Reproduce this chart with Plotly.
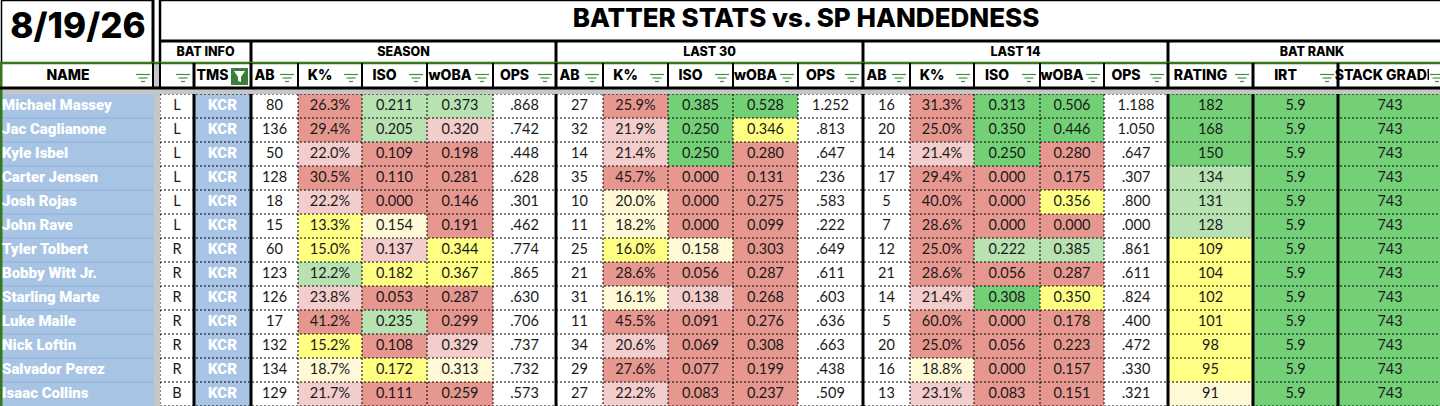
import plotly.graph_objects as go

# ---------------- data ----------------
DATE = "8/19/26"
TITLE = "BATTER STATS vs. SP HANDEDNESS"
GROUPS = ["BAT INFO", "SEASON", "LAST 30", "LAST 14", "BAT RANK"]
HEADERS = ["NAME", "", "TMS", "AB", "K%", "ISO", "wOBA", "OPS",
           "AB", "K%", "ISO", "wOBA", "OPS",
           "AB", "K%", "ISO", "wOBA", "OPS",
           "RATING", "IRT", "STACK GRADE"]

names = ["Michael Massey", "Jac Caglianone", "Kyle Isbel", "Carter Jensen", "Josh Rojas",
         "John Rave", "Tyler Tolbert", "Bobby Witt Jr.", "Starling Marte", "Luke Maile",
         "Nick Loftin", "Salvador Perez", "Isaac Collins"]
hand = ["L", "L", "L", "L", "L", "L", "R", "R", "R", "R", "R", "R", "B"]
team = ["KCR"] * 13

s_ab = [80, 136, 50, 128, 18, 15, 60, 123, 126, 17, 132, 134, 129]
s_k = [26.3, 29.4, 22.0, 30.5, 22.2, 13.3, 15.0, 12.2, 23.8, 41.2, 15.2, 18.7, 21.7]
s_iso = [0.211, 0.205, 0.109, 0.110, 0.000, 0.154, 0.137, 0.182, 0.053, 0.235, 0.108, 0.172, 0.111]
s_woba = [0.373, 0.320, 0.198, 0.281, 0.146, 0.191, 0.344, 0.367, 0.287, 0.299, 0.329, 0.313, 0.259]
s_ops = [0.868, 0.742, 0.448, 0.628, 0.301, 0.462, 0.774, 0.865, 0.630, 0.706, 0.737, 0.732, 0.573]

l30_ab = [27, 32, 14, 35, 10, 11, 25, 21, 31, 11, 34, 29, 27]
l30_k = [25.9, 21.9, 21.4, 45.7, 20.0, 18.2, 16.0, 28.6, 16.1, 45.5, 20.6, 27.6, 22.2]
l30_iso = [0.385, 0.250, 0.250, 0.000, 0.000, 0.000, 0.158, 0.056, 0.138, 0.091, 0.069, 0.077, 0.083]
l30_woba = [0.528, 0.346, 0.280, 0.131, 0.275, 0.099, 0.303, 0.287, 0.268, 0.276, 0.308, 0.199, 0.237]
l30_ops = [1.252, 0.813, 0.647, 0.236, 0.583, 0.222, 0.649, 0.611, 0.603, 0.636, 0.663, 0.438, 0.509]

l14_ab = [16, 20, 14, 17, 5, 7, 12, 21, 14, 5, 20, 16, 13]
l14_k = [31.3, 25.0, 21.4, 29.4, 40.0, 28.6, 25.0, 28.6, 21.4, 60.0, 25.0, 18.8, 23.1]
l14_iso = [0.313, 0.350, 0.250, 0.000, 0.000, 0.000, 0.222, 0.056, 0.308, 0.000, 0.056, 0.000, 0.083]
l14_woba = [0.506, 0.446, 0.280, 0.175, 0.356, 0.000, 0.385, 0.287, 0.350, 0.178, 0.223, 0.157, 0.151]
l14_ops = [1.188, 1.050, 0.647, 0.307, 0.800, 0.000, 0.861, 0.611, 0.824, 0.400, 0.472, 0.330, 0.321]

rating = [182, 168, 150, 134, 131, 128, 109, 104, 102, 101, 98, 95, 91]
irt = [5.9] * 13
stack = [743] * 13

# conditional-format classes
s_k_c = ["R", "R", "P", "R", "P", "Y", "Y", "LG", "P", "R", "Y", "LY", "P"]
s_iso_c = ["LG", "LG", "R", "R", "R", "LY", "P", "Y", "R", "LG", "R", "Y", "R"]
s_woba_c = ["LG", "P", "R", "R", "R", "R", "Y", "Y", "R", "R", "P", "LY", "R"]
l30_k_c = ["R", "P", "P", "R", "LY", "LY", "Y", "R", "LY", "R", "P", "R", "P"]
l30_iso_c = ["G", "G", "G", "R", "R", "R", "LY", "R", "P", "R", "R", "R", "R"]
l30_woba_c = ["G", "Y", "R", "R", "R", "R", "R", "R", "R", "R", "R", "R", "R"]
l14_k_c = ["R", "R", "P", "R", "R", "R", "R", "R", "P", "R", "R", "LY", "P"]
l14_iso_c = ["G", "G", "G", "R", "R", "R", "LG", "R", "G", "R", "R", "R", "R"]
l14_woba_c = ["G", "G", "R", "R", "Y", "R", "LG", "R", "Y", "R", "R", "R", "R"]
rating_c = ["G", "G", "G", "LG", "LG", "LG", "Y", "Y", "Y", "Y", "Y", "Y", "LY"]
irt_c = ["G"] * 13
stack_c = ["G"] * 13

# ---------------- styling / layout ----------------
PALETTE = {"R": "#e6978f", "P": "#f2cdcb", "Y": "#ffff84", "LY": "#fff9d6",
           "LG": "#b8e2b2", "G": "#73d077", "W": "#ffffff"}
BLUE = "#a7c4e5"
BLUE_SEP = "#8eadd2"
GRAY = "#c6c6c6"
DKGREEN = "#38761d"
ICON_GREEN = "#3f8f43"

W, H = 1440, 406
EDGES = [(2, 154), (160, 194), (194, 251), (251, 298), (298, 362), (362, 427), (427, 493),
         (493, 556), (556, 603), (603, 668), (668, 733), (733, 798), (798, 863),
         (863, 910), (910, 974), (974, 1040), (1040, 1104), (1104, 1168),
         (1168, 1253), (1253, 1338), (1338, 1442)]
THICK_X = [194, 251, 556, 863, 1168, 1253, 1338]
GROUP_SPANS = [(160, 251), (251, 556), (556, 863), (863, 1168), (1168, 1456)]
TITLE_BOT, GROUP_BOT, HEAD_BOT, DATA_TOP, ROW_H = 41, 63, 88, 94, 24


def pct(v):
    return f"{v:.1f}%"


def dec3(v):
    return f"{v:.3f}"


def ops(v):
    s = f"{v:.3f}"
    return s[1:] if s.startswith("0") else s


def intf(v):
    return str(v)


def dec1(v):
    return f"{v:.1f}"


COLUMNS = [
    (s_ab, intf, None), (s_k, pct, s_k_c), (s_iso, dec3, s_iso_c), (s_woba, dec3, s_woba_c), (s_ops, ops, None),
    (l30_ab, intf, None), (l30_k, pct, l30_k_c), (l30_iso, dec3, l30_iso_c), (l30_woba, dec3, l30_woba_c), (l30_ops, ops, None),
    (l14_ab, intf, None), (l14_k, pct, l14_k_c), (l14_iso, dec3, l14_iso_c), (l14_woba, dec3, l14_woba_c), (l14_ops, ops, None),
    (rating, intf, rating_c), (irt, dec1, irt_c), (stack, intf, stack_c),
]

shapes = []


def rect(x0, x1, y0, y1, fill, layer="below"):
    shapes.append(dict(type="rect", xref="x", yref="y", x0=x0, x1=x1, y0=y0, y1=y1,
                       fillcolor=fill, line=dict(width=0), layer=layer))


def line(x0, y0, x1, y1, color="#000000", width=1, dash="solid", layer="below"):
    shapes.append(dict(type="line", xref="x", yref="y", x0=x0, y0=y0, x1=x1, y1=y1,
                       line=dict(color=color, width=width, dash=dash), layer=layer))


n = len(names)


def row_top(i):
    return DATA_TOP + i * ROW_H


# cell fills
for i in range(n):
    y0, y1 = row_top(i), row_top(i) + ROW_H
    rect(EDGES[0][0], EDGES[0][1], y0, y1, BLUE)
    rect(EDGES[1][0], EDGES[1][1], y0, y1, "#ffffff")
    rect(EDGES[2][0], EDGES[2][1], y0, y1, BLUE)
    for j, (vals, fmt, cls) in enumerate(COLUMNS):
        c = PALETTE[cls[i]] if cls else "#ffffff"
        x0, x1 = EDGES[3 + j]
        rect(x0, x1, y0, y1, c)

# name column separators
for i in range(1, n):
    line(2, row_top(i), 154, row_top(i), BLUE_SEP, 1)

# dotted grid inside data area
for i in range(0, n + 1):
    line(160, row_top(i), W, row_top(i), "#000000", 1, "2px,2px")
for (x0, x1) in EDGES[1:]:
    if x0 not in THICK_X:
        line(x0, DATA_TOP, x0, H, "#000000", 1, "2px,2px")
for x in THICK_X:
    line(x, DATA_TOP, x, H, "#000000", 3)

# grey frozen-pane bands
rect(154, 160, GROUP_BOT, H, GRAY)
rect(0, W, HEAD_BOT + 1, DATA_TOP, GRAY)
# left dark green edge
line(1, GROUP_BOT, 1, H, DKGREEN, 3)

# date box
line(1.5, 0, 1.5, GROUP_BOT, "#000000", 1.5)
line(1, 0.5, 154, 0.5, "#000000", 1.5)
line(153, 0, 153, GROUP_BOT, "#000000", 3)
# title box
line(160, 0.5, W, 0.5, "#000000", 1.5)
line(160, 0, 160, GROUP_BOT, "#000000", 2.5)
line(160, TITLE_BOT, W, TITLE_BOT, "#000000", 3)
for (gx0, gx1) in GROUP_SPANS[1:]:
    line(gx0, TITLE_BOT, gx0, GROUP_BOT, "#000000", 3)
# green line under groups
line(0, GROUP_BOT, W, GROUP_BOT, DKGREEN, 2.5)
# header row verticals
line(153, GROUP_BOT, 153, HEAD_BOT, "#000000", 2)
line(160, GROUP_BOT, 160, HEAD_BOT, "#000000", 2)
for (x0, x1) in EDGES[2:]:
    line(x0, GROUP_BOT, x0, HEAD_BOT, "#000000", 3 if x0 in THICK_X else 2)
line(0, HEAD_BOT, W, HEAD_BOT, "#000000", 3)

# filter icons
for k, (x0, x1) in enumerate(EDGES):
    cx = x1 - 11
    if HEADERS[k] == "TMS":
        rect(x1 - 20, x1 - 3, 68, 85, "#3b7f3b")
        shapes.append(dict(type="path", xref="x", yref="y",
                           path=f"M {x1-17},71 L {x1-6},71 L {x1-10},77 L {x1-10},82 L {x1-13},81 L {x1-13},77 Z",
                           fillcolor="#ffffff", line=dict(width=0), layer="below"))
        continue
    lay = "above" if k == len(EDGES) - 1 else "below"
    if lay == "above":
        rect(x1 - 13, W, 66, 86, "#ffffff", layer="above")
        cx = x1 - 5
    for dy, hw in ((0, 7), (3.5, 4.5), (7, 2)):
        line(cx - hw, 74.5 + dy, cx + hw, 74.5 + dy, ICON_GREEN, 1.2, layer=lay)

# ---------------- text ----------------
data_x, data_y, data_t = [], [], []
for i in range(n):
    yc = row_top(i) + ROW_H / 2
    data_x.append((EDGES[1][0] + EDGES[1][1]) / 2)
    data_y.append(yc)
    data_t.append(hand[i])
    for j, (vals, fmt, cls) in enumerate(COLUMNS):
        x0, x1 = EDGES[3 + j]
        data_x.append((x0 + x1) / 2)
        data_y.append(yc)
        data_t.append(fmt(vals[i]))

name_y = [row_top(i) + ROW_H / 2 for i in range(n)]

head_x, head_t = [], []
for k, (x0, x1) in enumerate(EDGES):
    if HEADERS[k]:
        head_x.append((x0 + x1 - 20) / 2 if k < len(EDGES) - 1 else 1385)
        head_t.append(HEADERS[k])

fig = go.Figure()
fig.add_trace(go.Scatter(x=data_x, y=data_y, text=data_t, mode="text", textposition="middle center",
                         textfont=dict(family="Lato", size=14.5, color="#1a1a1a"), hoverinfo="skip"))
fig.add_trace(go.Scatter(x=[2] * n, y=name_y, text=names, mode="text", textposition="middle right",
                         textfont=dict(family="Roboto", size=15, color="#ffffff", weight=900), hoverinfo="skip"))
fig.add_trace(go.Scatter(x=[(EDGES[2][0] + EDGES[2][1]) / 2] * n, y=name_y, text=team, mode="text",
                         textposition="middle center",
                         textfont=dict(family="Roboto", size=15, color="#ffffff", weight=900), hoverinfo="skip"))
fig.add_trace(go.Scatter(x=head_x, y=[76.5] * len(head_x), text=head_t, mode="text", textposition="middle center",
                         textfont=dict(family="Inter", size=14, color="#000000", weight=800), hoverinfo="skip"))
fig.add_trace(go.Scatter(x=[(a + b) / 2 for a, b in GROUP_SPANS], y=[52.5] * len(GROUPS), text=GROUPS, mode="text",
                         textposition="middle center",
                         textfont=dict(family="Inter", size=12.5, color="#000000", weight=800), hoverinfo="skip"))
fig.add_trace(go.Scatter(x=[78], y=[29.5], text=[DATE], mode="text", textposition="middle center",
                         textfont=dict(family="Inter", size=35, color="#000000", weight=800), hoverinfo="skip"))
fig.add_trace(go.Scatter(x=[(160 + 1452) / 2], y=[20.5], text=[TITLE], mode="text", textposition="middle center",
                         textfont=dict(family="Inter", size=26, color="#000000", weight=800), hoverinfo="skip"))

fig.update_layout(
    width=W, height=H, margin=dict(l=0, r=0, t=0, b=0),
    paper_bgcolor="#ffffff", plot_bgcolor="#ffffff", showlegend=False,
    xaxis=dict(range=[0, W], visible=False, fixedrange=True),
    yaxis=dict(range=[H, 0], visible=False, fixedrange=True),
    shapes=shapes,
)
fig.write_html("out.html", config={"displayModeBar": False},
               post_script="document.body.style.margin='0';document.body.style.overflow='hidden';")
